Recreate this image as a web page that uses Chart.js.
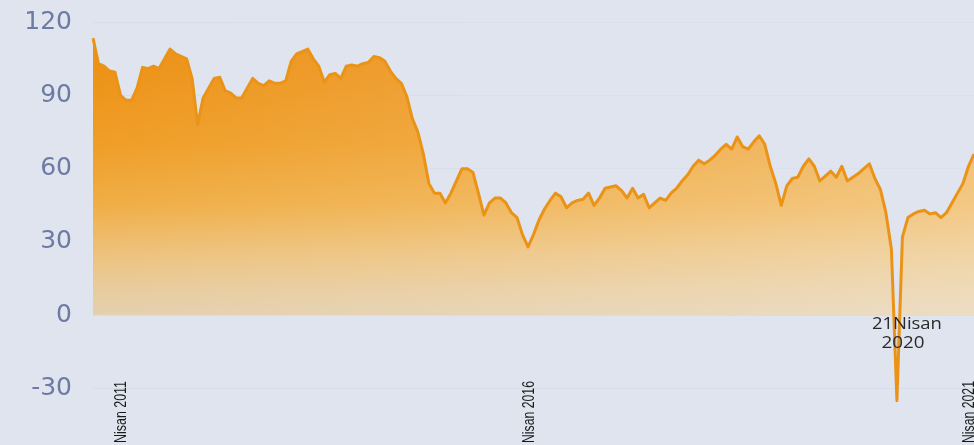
<!DOCTYPE html>
<html>
<head>
<meta charset="utf-8">
<script src="https://cdn.jsdelivr.net/npm/chart.js@4.4.1/dist/chart.umd.min.js"></script>
<style>
  html, body { margin: 0; padding: 0; background: #DFE4EF; }
  #wrap { width: 974px; height: 445px; overflow: hidden; }
  canvas { display: block; }
</style>
</head>
<body>
<div id="wrap"><canvas id="c" width="974" height="445"></canvas></div>
<script>
// ---- data ----
const prices = [
  113.5, 103, 102, 100, 99.5, 90, 88, 88, 93, 101.5,
  101, 102, 101, 105, 109, 107, 106, 105, 97, 78,
  89, 93, 97, 97.5, 92, 91, 89, 89, 93, 97,
  95, 94, 96, 95, 95, 96, 104, 107, 108, 109,
  105, 102, 95.5, 98.5, 99, 97, 102, 102.5, 102, 103,
  103.5, 106, 105.5, 104, 100, 97, 95, 89.5, 80.5, 75,
  66, 54, 50, 50, 46, 50, 55, 60, 60, 58.5,
  50, 41, 46, 48, 48, 46, 42, 40, 33, 28,
  33, 39, 43.5, 47, 50, 48.5, 44, 46, 47, 47.5,
  50, 45, 48, 52, 52.5, 53, 51, 48, 52, 48,
  49.5, 44, 46, 48, 47, 50, 52, 55, 57.5, 61,
  63.5, 62, 63.5, 65.5, 68, 70, 68, 73, 69, 68,
  71, 73.5, 70, 61, 54, 45, 53, 56, 56.5, 61,
  64, 61, 55, 57, 59, 56.5, 61, 55, 56.5, 58,
  60, 62, 56, 51.5, 42, 27, -35, 32, 40, 41.5,
  42.5, 43, 41.5, 42, 40, 42, 46, 50, 54, 61,
  66
];
const categories = prices.map((_, i) => String(i));
const yTicks = [-30, 0, 30, 60, 90, 120];
const xLabelIdx = [6, 80, 160];
const xLabelText = ['Nisan 2011', 'Nisan 2016', 'Nisan 2021'];
const eventIdx = 146;
const eventText = ['21Nisan', '2020'];

// ---- styling helpers ----
function fillGradient(context) {
  const chart = context.chart;
  const area = chart.chartArea;
  if (!area) return '#EFA030';
  const y = chart.scales.y;
  const g = chart.ctx.createLinearGradient(0, y.getPixelForValue(125), 0, y.getPixelForValue(0));
  g.addColorStop(0.00, '#EB8C10');
  g.addColorStop(0.20, '#ED9318');
  g.addColorStop(0.44, '#EF9E27');
  g.addColorStop(0.64, '#F0AE46');
  g.addColorStop(0.80, '#EDC27D');
  g.addColorStop(0.92, '#E8CC9F');
  g.addColorStop(1.00, '#E4D0AF');
  return g;
}

const glarePlugin = {
  id: 'glare',
  beforeDatasetDraw(chart) {
    const { ctx, chartArea: a, scales: { y } } = chart;
    const y0 = y.getPixelForValue(0);
    ctx.save();
    ctx.beginPath();
    ctx.rect(a.left, a.top, a.right - a.left, y0 - a.top);
    ctx.clip();
    ctx.globalCompositeOperation = 'source-atop';
    const g = ctx.createLinearGradient(a.left, 0, a.right, 0);
    g.addColorStop(0, 'rgba(247,240,226,0)');
    g.addColorStop(0.35, 'rgba(247,240,226,0.12)');
    g.addColorStop(1, 'rgba(247,240,226,0.4)');
    ctx.fillStyle = g;
    ctx.fillRect(a.left, a.top, a.right - a.left, y0 - a.top);
    ctx.restore();
  }
};

const labelPlugin = {
  id: 'labels',
  afterDraw(chart) {
    const { ctx, scales: { x, y } } = chart;
    // rotated date labels
    ctx.save();
    ctx.fillStyle = '#1A1A1A';
    ctx.font = '17px "Liberation Sans", Arial, sans-serif';
    xLabelIdx.forEach((idx, k) => {
      const px = x.getPixelForValue(idx);
      const w = ctx.measureText(xLabelText[k]).width;
      ctx.save();
      ctx.translate(px, 443);
      ctx.rotate(-Math.PI / 2);
      ctx.scale(62 / w, 1);
      ctx.textAlign = 'left';
      ctx.textBaseline = 'alphabetic';
      ctx.fillText(xLabelText[k], 0, 0);
      ctx.restore();
    });
    ctx.restore();
    // event annotation
    ctx.save();
    ctx.fillStyle = '#2A2A2A';
    ctx.font = '16px "Open Sans", sans-serif';
    ctx.textAlign = 'center';
    ctx.textBaseline = 'middle';
    const sx = x.getPixelForValue(eventIdx);
    const y0 = y.getPixelForValue(0);
    const targets = [[sx + 10, y0 + 9, 70], [sx + 6, y0 + 28, 43]];
    eventText.forEach((t, k) => {
      const [cx, cy, tw] = targets[k];
      const w = ctx.measureText(t).width;
      ctx.save();
      ctx.translate(cx, cy);
      ctx.scale(tw / w, 1);
      ctx.fillText(t, 0, 0);
      ctx.restore();
    });
    ctx.restore();
  }
};

new Chart(document.getElementById('c'), {
  type: 'line',
  data: {
    labels: categories,
    datasets: [{
      data: prices,
      borderColor: '#EA9317',
      borderWidth: 3,
      pointRadius: 0,
      tension: 0,
      borderJoinStyle: 'round',
      backgroundColor: fillGradient,
      fill: { target: 'origin', below: 'rgba(0,0,0,0)' }
    }]
  },
  options: {
    responsive: false,
    devicePixelRatio: 1,
    animation: false,
    layout: { padding: { top: 10, right: 0, bottom: 37, left: 0 } },
    plugins: { legend: { display: false }, tooltip: { enabled: false } },
    scales: {
      x: { type: 'category', display: false, offset: false },
      y: {
        min: -38,
        max: 125,
        afterBuildTicks(s) { s.ticks = yTicks.map(v => ({ value: v })); },
        afterFit(s) { s.width = 93; s.paddingTop = 0; s.paddingBottom = 0; },
        border: { display: false },
        grid: { color: 'rgba(165,178,205,0.12)', drawTicks: false, lineWidth: 1 },
        ticks: {
          padding: 21,
          color: '#6C7BA3',
          font: { family: '"DejaVu Sans", sans-serif', size: 25 }
        }
      }
    }
  },
  plugins: [glarePlugin, labelPlugin]
});
</script>
</body>
</html>
